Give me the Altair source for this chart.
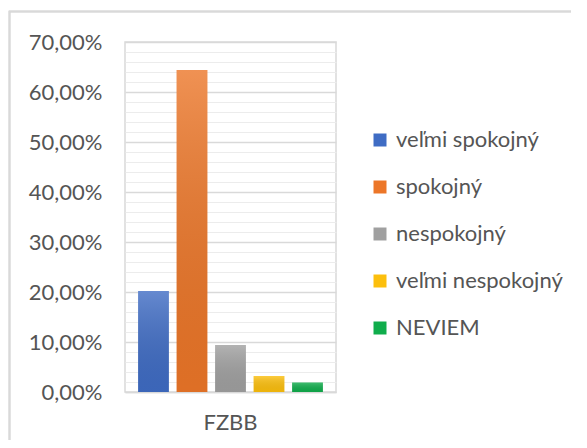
import altair as alt
import pandas as pd

categories = ["veľmi spokojný", "spokojný", "nespokojný", "veľmi nespokojný", "NEVIEM"]
values = [20.2, 64.4, 9.4, 3.2, 1.9]
group = ["FZBB"] * 5
colors = ["#3f6cc4", "#ec7628", "#a0a0a0", "#fcbf0d", "#10ad4c"]
tick_values = list(range(0, 71, 2))

df = pd.DataFrame({"group": group, "cat": categories, "val": values})

FONT = "Lato"
LBL = "#555555"

x_enc = alt.X("group:N", title=None,
              scale=alt.Scale(paddingInner=0, paddingOuter=0.048),
              axis=alt.Axis(labelAngle=0, ticks=False, domain=True, domainColor="#d9d9d9",
                            domainWidth=1.5, labelPadding=20, labelFontSize=22,
                            labelColor=LBL, labelFont=FONT))
xo_enc = alt.XOffset("cat:N", sort=categories,
                     scale=alt.Scale(paddingInner=0.2, paddingOuter=0.1))
y_enc = alt.Y("val:Q", title=None,
              scale=alt.Scale(domain=[0, 70], nice=False),
              axis=alt.Axis(values=tick_values, domain=False, ticks=False,
                            labelExpr="datum.value % 10 === 0 ? replace(format(datum.value, '.2f'), '.', ',') + '%' : ''",
                            labelFontSize=22, labelColor=LBL, labelFont=FONT, labelPadding=23,
                            gridColor={"condition": {"test": "datum.value % 10 === 0", "value": "#d9d9d9"}, "value": "#ececec"},
                            gridWidth={"condition": {"test": "datum.value % 10 === 0", "value": 1.5}, "value": 1}))

bars = alt.Chart(df).mark_bar().encode(
    x=x_enc, xOffset=xo_enc, y=y_enc,
    color=alt.Color("cat:N", sort=categories,
                    scale=alt.Scale(domain=categories, range=colors),
                    legend=alt.Legend(title=None, orient="none", legendX=244, legendY=87,
                                      symbolType="square", symbolSize=169, symbolStrokeWidth=0,
                                      labelFontSize=22, labelColor=LBL, labelFont=FONT,
                                      labelLimit=400, rowPadding=25, labelOffset=5)),
)

shade = alt.Chart(df).mark_bar(
    color={"gradient": "linear", "x1": 0, "y1": 0, "x2": 0, "y2": 1,
           "stops": [{"offset": 0, "color": "rgba(255,255,255,0.2)"},
                     {"offset": 1, "color": "rgba(0,0,0,0.06)"}]}
).encode(x=x_enc, xOffset=xo_enc, y=y_enc)

frame = alt.Chart(df).mark_rect(fill=None, stroke="#d9d9d9", strokeWidth=1.5).encode(
    x=alt.value(-115.5), x2=alt.value(475), y=alt.value(-30.5), y2=alt.value(420))

chart = alt.layer(frame, bars, shade).properties(
    width=211, height=350,
    autosize=alt.AutoSizeParams(type="none"),
    padding={"left": 117, "top": 34, "right": 235, "bottom": 48},
).configure_view(stroke="#d9d9d9", strokeWidth=1.5)

chart.save("out.html", embed_options={"renderer": "svg", "actions": False})
